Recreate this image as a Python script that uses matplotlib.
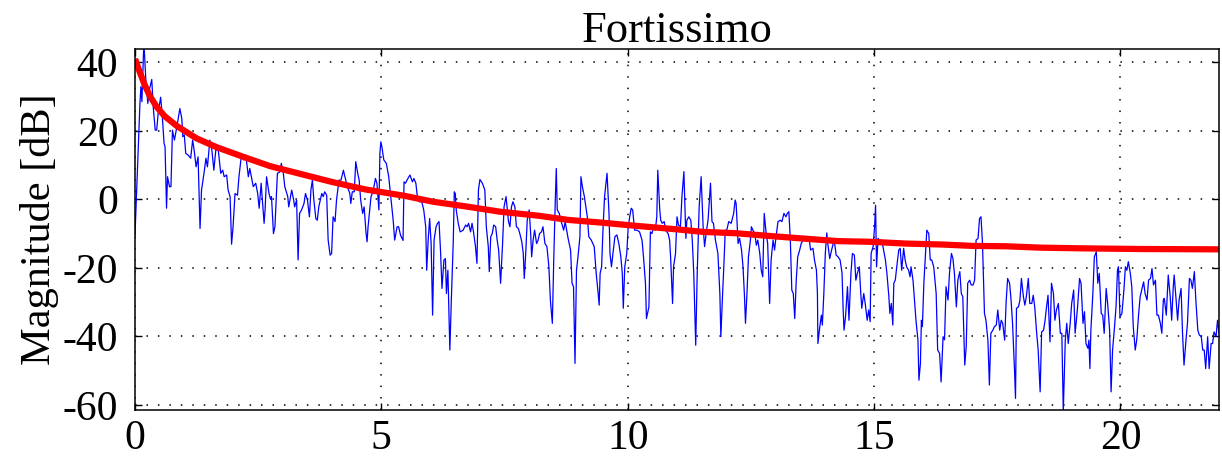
import matplotlib
matplotlib.use("Agg")
import matplotlib.pyplot as plt

# frequency axis in kHz, magnitude in dB
spectrum_points = [
    (0.0, -10.4), (0.10, 28), (0.12, 32.9), (0.14, 28.5), (0.18, 46), (0.22, 34.8),
    (0.26, 28), (0.29, 31.9), (0.34, 35), (0.37, 27), (0.41, 20.2), (0.44, 20.2),
    (0.47, 25.1), (0.52, 29.8), (0.55, 25.1), (0.59, 16.3), (0.61, 15.4), (0.64, -2.6),
    (0.66, 6.6), (0.70, 3.7), (0.73, 3.7), (0.76, 20.2), (0.80, 17.3), (0.85, 21.2),
    (0.91, 26.5), (0.95, 23.6), (0.97, 18.3), (1.0, 18.8), (1.03, 13.4), (1.08, 12.9),
    (1.13, 12), (1.17, 17.3), (1.20, 14.4), (1.24, 9.5), (1.28, 12.4), (1.32, -8.5),
    (1.35, 2.7), (1.40, 7.6), (1.44, 12), (1.47, 9.5), (1.52, 17.3), (1.56, 14.4),
    (1.60, 8.5), (1.64, 14.4), (1.69, 14.4), (1.74, 7.6), (1.78, 8.5), (1.81, 6.6),
    (1.86, 7.1), (1.89, 2.7), (1.93, 0.8), (1.96, -13.1), (1.99, -8), (2.03, 1.7),
    (2.08, 1.2), (2.11, 6.6), (2.16, 12.9), (2.21, 11.5), (2.25, 12.9), (2.30, 6.6),
    (2.33, 9), (2.40, 3.7), (2.45, 4.7), (2.49, 1.7), (2.52, -2.6), (2.56, 4.7),
    (2.59, -1.2), (2.62, -7), (2.64, -3.1),
    (2.67, 6.6), (2.72, 1.7), (2.75, 0), (2.77, 0.8), (2.81, -10), (2.84, -8),
    (2.89, 7.6), (2.94, 8), (2.97, 10.5), (3.01, 7.6), (3.04, 3.7), (3.10, 0.8),
    (3.12, -2.2), (3.18, 2.7), (3.22, -0.2), (3.24, -2.2), (3.28, -0.2), (3.31, -17.7),
    (3.34, -4.1), (3.38, -3.1), (3.43, -1.2), (3.46, 1.7), (3.50, -0.2), (3.54, -5.1),
    (3.57, 2.7), (3.60, 5.6), (3.63, -0.2), (3.67, -5.6), (3.70, -6.1), (3.73, -2.2),
    (3.79, 1.7), (3.82, 0.8), (3.85, 2.2), (3.89, 1.2), (3.92, -11.9), (3.96, -16.3),
    (3.99, -15.8), (4.02, -5.1), (4.06, -6.5), (4.09, -0.2), (4.14, 5.6), (4.18, 5.6),
    (4.23, 8.5), (4.26, 6.6), (4.31, 3.7), (4.36, 1.7), (4.38, -1.2), (4.41, 2.2),
    (4.45, 2.2), (4.48, 11), (4.52, 7.6), (4.55, 5.6), (4.58, -0.2), (4.62, -4.1),
    (4.65, -2.2), (4.69, -10), (4.71, -12.4), (4.73, -8), (4.79, 0.8), (4.83, 2.2),
    (4.88, 6.1), (4.91, 4.7), (4.95, -3.1), (4.97, 13.4), (4.99, 16.8), (5.01, 15.4),
    (5.05, 11.5), (5.10, 10.5), (5.15, 6.6), (5.19, 0.8), (5.24, -6.1), (5.27, -11.9),
    (5.32, -8), (5.35, -8),
    (5.39, -10.5), (5.44, -12), (5.46, 5.1), (5.49, 4.7), (5.52, 5.6), (5.58, 7.1),
    (5.63, 5.1), (5.66, 6.1), (5.70, 4.7), (5.73, 0.8), (5.77, -0.7), (5.82, -0.7),
    (5.86, -3.1), (5.90, -8), (5.92, -20.7), (5.95, -11.9), (5.98, -5.6), (6.01, -12.9),
    (6.04, -33.8), (6.07, -11.9), (6.11, -8), (6.14, -7), (6.17, -6.5), (6.20, -14.8),
    (6.23, -26), (6.27, -17.7), (6.30, -17.3), (6.32, -27.5), (6.35, -20.7), (6.39, -44),
    (6.42, -29.4), (6.46, -11.9), (6.48, 2.2), (6.50, 1.7), (6.52, -3.1), (6.56, -7),
    (6.60, -9.5), (6.66, -9), (6.71, -7.5), (6.74, -8), (6.77, -7), (6.81, -9.5),
    (6.84, -7), (6.87, -9.5), (6.91, -13.8), (6.94, -18.7), (6.97, 2.7), (7.0, 5.8),
    (7.05, 4.7), (7.10, 2.7), (7.13, -8), (7.17, -13.8), (7.19, -21.1), (7.22, -10.9),
    (7.25, -10), (7.28, -7.5), (7.32, -8), (7.35, -11.9), (7.38, -14.8), (7.42, -24.5),
    (7.46, -12.9), (7.49, -2.2), (7.53, 0.8), (7.55, -2.2), (7.58, -6.5), (7.61, -8),
    (7.64, -2.2), (7.67, -0.7), (7.71, -2.2), (7.74, -8), (7.78, -8.5), (7.81, -10),
    (7.85, -12.4), (7.88, -15.8), (7.90, -23.1), (7.93, -15.8), (7.96, -6.1), (8.0, -3.1),
    (8.03, -10), (8.05, -16.8), (8.08, -11.9),
    (8.11, -9), (8.15, -12.9), (8.18, -12), (8.21, -10), (8.25, -9.5), (8.28, -8),
    (8.32, -12.9), (8.36, -13.8), (8.40, -19.7), (8.43, -29.4), (8.47, -36.2), (8.50, -16.8),
    (8.53, -0.2), (8.55, 9.0), (8.57, -3.1), (8.61, -4.1), (8.65, -6.5), (8.70, -9),
    (8.73, -6.5), (8.79, -11.4), (8.84, -14.8), (8.87, -24.5), (8.90, -25.5), (8.93, -47.9),
    (8.96, -20.7), (8.99, -16.8), (9.03, -10.9), (9.05, 6.6), (9.08, 3.7), (9.12, 0.8),
    (9.15, -2.2), (9.18, -5.1), (9.21, -10.9), (9.26, -11.9), (9.32, -13.8), (9.36, -21.6),
    (9.40, -27.5), (9.42, -30.9), (9.44, -21.6), (9.47, -19.7), (9.50, -8), (9.53, 0.8),
    (9.58, 7.6), (9.62, -4.1), (9.64, -15.8), (9.67, -19.7), (9.70, -15.8), (9.74, -10.9),
    (9.78, -10.4), (9.82, -12.9), (9.86, -16.8), (9.89, -21.6), (9.91, -31.8), (9.94, -19.7),
    (9.98, -15.8), (10.01, -8), (10.04, -5.1), (10.07, -2.6), (10.10, -3.1), (10.14, -9),
    (10.19, -9), (10.24, -9.5), (10.29, -11.9), (10.32, -16.8), (10.36, -24.5), (10.38, -34.8),
    (10.43, -31.4), (10.46, -9.5), (10.49, -10), (10.53, -8), (10.56, -9), (10.59, -5.1),
    (10.61, 8.5), (10.65, -3.1), (10.67, -6.1), (10.70, -7), (10.74, -6.5), (10.77, -9),
    (10.82, -10),
    (10.85, -11.9), (10.87, -16.8), (10.91, -30.4), (10.93, -19.7), (10.97, -15.8), (11.0, -5.1),
    (11.03, -7.5), (11.07, -8), (11.10, 0.8), (11.14, 8.1), (11.18, -11.4), (11.20, -6.1),
    (11.24, -5.1), (11.28, -6.1), (11.31, -11.9), (11.34, -21.6), (11.38, -42.6), (11.41, -21.6),
    (11.45, -2.2), (11.49, 6.6), (11.53, -8), (11.56, -13.8), (11.60, -9), (11.63, -6.1),
    (11.68, 4.7), (11.71, -6.5), (11.74, -7), (11.78, -11.9), (11.83, -15.8), (11.87, -27.5),
    (11.89, -40.1), (11.92, -29.4), (11.95, -19.7), (11.98, -9), (12.01, -9), (12.05, -6.5),
    (12.10, -7), (12.15, -4.1), (12.18, -0.2), (12.20, -1.2), (12.24, -12.9), (12.27, -11.4),
    (12.31, -14.8), (12.34, -19.7), (12.37, -28.4), (12.39, -36.2), (12.42, -27.5), (12.45, -16.8),
    (12.49, -11.9), (12.51, -8), (12.54, -9), (12.58, -10), (12.61, -13.4), (12.64, -11.9),
    (12.68, -15.8), (12.71, -20.7), (12.74, -22.6), (12.77, -4.1), (12.81, -10), (12.84, -12.9),
    (12.88, -30.4), (12.91, -17.7), (12.95, -11.9), (12.98, -14.8), (13.01, -10.9), (13.05, -6.5),
    (13.10, -6.1), (13.13, -6.5), (13.17, -4.1), (13.21, -5.1), (13.24, -4.1), (13.27, -3.6),
    (13.30, -11.9), (13.33, -26.5), (13.36, -27.5), (13.39, -34.8), (13.42, -23.6), (13.45, -16.8),
    (13.49, -14.8), (13.52, -12.9), (13.56, -11.9),
    (13.59, -11.9), (13.66, -11.7), (13.69, -12.4), (13.71, -14.8), (13.76, -14.3), (13.79, -17.7),
    (13.83, -20.7), (13.85, -27.5), (13.86, -42.1), (13.89, -38.2), (13.93, -33.8), (13.95, -36.7),
    (13.98, -27.5), (14.01, -15.8), (14.04, -9.8), (14.06, -12.9), (14.10, -17.3), (14.13, -15.3),
    (14.17, -12.9), (14.20, -12.9), (14.23, -16.3), (14.27, -16.8), (14.31, -17.7), (14.35, -21.6),
    (14.37, -31.4), (14.39, -38.2), (14.42, -34.3), (14.46, -25.5), (14.49, -35.3), (14.53, -21.6),
    (14.56, -15.8), (14.60, -16.3), (14.63, -23.6), (14.66, -21.6), (14.70, -19.7), (14.73, -27.5),
    (14.75, -31.8), (14.79, -27.5), (14.82, -30.4), (14.86, -35.3), (14.89, -32.3), (14.92, -35.7),
    (14.94, -15.8), (14.98, -13.8), (15.01, -8), (15.03, -1.7), (15.05, -19.7), (15.08, -11.4),
    (15.11, -11.9), (15.15, -11.9), (15.18, -13.8), (15.23, -17.7), (15.26, -21.6), (15.30, -28.4),
    (15.32, -33.3), (15.35, -30.4), (15.38, -36.7), (15.40, -24.5), (15.43, -23.6), (15.46, -19.7),
    (15.50, -14.8), (15.53, -14.3), (15.56, -20.7), (15.60, -14.3), (15.63, -17.7), (15.66, -19.7),
    (15.70, -20.7), (15.73, -22.6), (15.75, -19.7), (15.79, -23.6), (15.82, -29.4), (15.85, -35.3),
    (15.89, -41.1), (15.91, -52.8), (15.94, -47.9), (15.96, -35.3), (15.98, -37.2), (16.01, -24.5),
    (16.04, -16.8), (16.07, -9), (16.11, -10), (16.14, -17.7), (16.17, -17.7), (16.21, -19.7),
    (16.26, -27.5), (16.29, -44),
    (16.33, -45), (16.36, -53.3), (16.40, -40.1), (16.43, -41), (16.46, -25.5), (16.50, -29.4),
    (16.53, -21.6), (16.57, -15.8), (16.60, -17.3), (16.63, -21.6), (16.67, -31.4), (16.70, -23.6),
    (16.74, -21.1), (16.77, -27.5), (16.80, -28.4), (16.84, -48.4), (16.87, -43), (16.90, -24.5),
    (16.94, -23.6), (16.97, -25), (17.01, -25), (17.04, -23.6), (17.07, -11.9), (17.11, -11.4),
    (17.14, -5.6), (17.17, -5.1), (17.20, -12.9), (17.24, -33.3), (17.27, -35.3), (17.31, -41.1),
    (17.34, -54.2), (17.37, -39.1), (17.41, -38.2), (17.44, -37.2), (17.48, -36.7), (17.51, -32.3),
    (17.55, -38.2), (17.58, -35.3), (17.61, -36.2), (17.65, -41.1), (17.68, -29.9), (17.71, -23.1),
    (17.75, -24.5), (17.78, -29.4), (17.81, -36.2), (17.85, -49.9), (17.87, -58.1), (17.89, -31.8),
    (17.93, -31.4), (17.96, -29.4), (17.99, -23.1), (18.03, -28.4), (18.06, -30.9), (18.09, -28.4),
    (18.13, -23.1), (18.16, -30.4), (18.20, -30.4), (18.23, -28), (18.26, -31.4), (18.30, -39.1),
    (18.33, -44), (18.37, -56.2), (18.40, -38.7), (18.44, -38.2), (18.47, -35.3), (18.50, -31.4),
    (18.53, -28), (18.57, -41.6), (18.60, -24.5), (18.64, -27.5), (18.67, -35.3), (18.70, -32.3),
    (18.74, -30.4), (18.78, -39.1), (18.81, -39.1), (18.84, -62), (18.88, -41.1), (18.91, -36.2),
    (18.94, -42.1), (18.98, -36.2), (19.01, -30.4), (19.05, -26.5),
    (19.08, -39.1), (19.10, -36.2), (19.13, -31.4), (19.17, -23.1), (19.20, -24.5), (19.24, -36.2),
    (19.27, -32.8), (19.30, -42.1), (19.34, -43.5), (19.36, -41.1), (19.38, -49.4), (19.40, -38.2),
    (19.44, -27.5), (19.47, -16.8), (19.51, -15.3), (19.54, -24.5), (19.57, -21.6), (19.61, -33.3),
    (19.64, -33.8), (19.67, -39.1), (19.71, -26), (19.74, -30.4), (19.78, -38.2), (19.81, -56.2),
    (19.84, -44), (19.88, -37.2), (19.91, -31.4), (19.94, -20.7), (19.96, -19.7), (19.99, -34.3),
    (20.03, -33.3), (20.07, -26.5), (20.10, -19.7), (20.13, -20.7), (20.16, -18.2), (20.20, -21.6),
    (20.23, -25.5), (20.26, -37.2), (20.30, -44), (20.33, -41.1), (20.37, -33.3), (20.40, -28.4),
    (20.43, -26.5), (20.47, -24.1), (20.50, -27.5), (20.54, -29.4), (20.57, -23.6), (20.61, -23.1),
    (20.64, -20.2), (20.67, -25), (20.71, -23.6), (20.74, -33.8), (20.77, -33.8), (20.81, -36.2),
    (20.84, -39.1), (20.87, -29.4), (20.89, -28.9), (20.93, -33.8), (20.97, -22.1), (21.01, -28.4),
    (21.04, -35.3), (21.07, -26), (21.09, -22.1), (21.13, -29.4), (21.16, -35.3), (21.19, -29.4),
    (21.23, -26), (21.26, -39.1), (21.29, -48.4), (21.33, -41.1), (21.36, -36.2), (21.40, -23.1),
    (21.43, -23.6), (21.46, -26), (21.50, -21.1), (21.53, -29.4), (21.57, -38.2), (21.60, -39.6),
    (21.64, -40.1), (21.67, -44), (21.70, -44), (21.73, -49.4), (21.77, -40.1), (21.80, -49.4),
    (21.84, -42.1), (21.87, -42.1), (21.90, -38.7), (21.94, -40.1), (21.97, -35.3), (22.0, -39.1),
]

# smooth envelope (red)
env_khz = [0, 0.1, 0.2, 0.3, 0.44, 0.6, 0.85, 1.25, 1.66, 2.2, 2.74, 3.31, 3.99, 4.67,
           5.48, 6.05, 6.73, 7.4, 8.2, 8.79, 9.47, 10.14, 10.95, 11.53, 12.2, 12.88,
           13.7, 14.27, 14.94, 15.62, 16.4, 17.0, 17.68, 18.36, 19.2, 19.74, 20.4, 22.0]
env_db = [41.0, 37.0, 33.3, 30.2, 27.0, 24.3, 21.4, 17.8, 15.2, 12.4, 9.7, 7.6, 5.1, 2.9,
          1.0, -0.7, -2.1, -3.6, -4.8, -6.0, -6.8, -7.7, -8.7, -9.5, -9.9, -10.7,
          -11.6, -12.2, -12.4, -12.9, -13.2, -13.6, -13.7, -14.1, -14.3, -14.4, -14.5, -14.6]

x_ticks = [0, 5, 10, 15, 20]
y_ticks = [-60, -40, -20, 0, 20, 40]

plt.rcParams["font.family"] = "serif"
plt.rcParams["font.serif"] = ["Liberation Serif", "DejaVu Serif"]
plt.rcParams["axes.unicode_minus"] = False

freq = [p[0] for p in spectrum_points]
mag = [p[1] for p in spectrum_points]

fig = plt.figure(figsize=(12.22, 4.61), dpi=100)
ax = fig.add_axes([135 / 1222, 1 - 410 / 461, (1219 - 135) / 1222, (410 - 49.3) / 461])

ax.plot(freq, mag, color="#0000ff", lw=0.9)
ax.plot(env_khz, env_db, color="#ff0000", lw=4.5, solid_capstyle="butt")

ax.set_xlim(0, 22)
ax.set_ylim(-61.5, 43.8)
ax.set_xticks(x_ticks)
ax.set_yticks(y_ticks)
ax.grid(True, color="black", linestyle=(0, (1, 6.5)), linewidth=1.1)

ax.tick_params(direction="in", length=5, width=1, top=True, right=True,
               labelsize=30)
ax.tick_params(axis="y", pad=12)
ax.tick_params(axis="x", pad=7)
for s in ax.spines.values():
    s.set_linewidth(1.1)

ax.set_title("Fortissimo", fontsize=32, pad=5)
ax.set_ylabel("Magnitude [dB]", fontsize=30.5, labelpad=3)

fig.savefig("out.png", dpi=100)
